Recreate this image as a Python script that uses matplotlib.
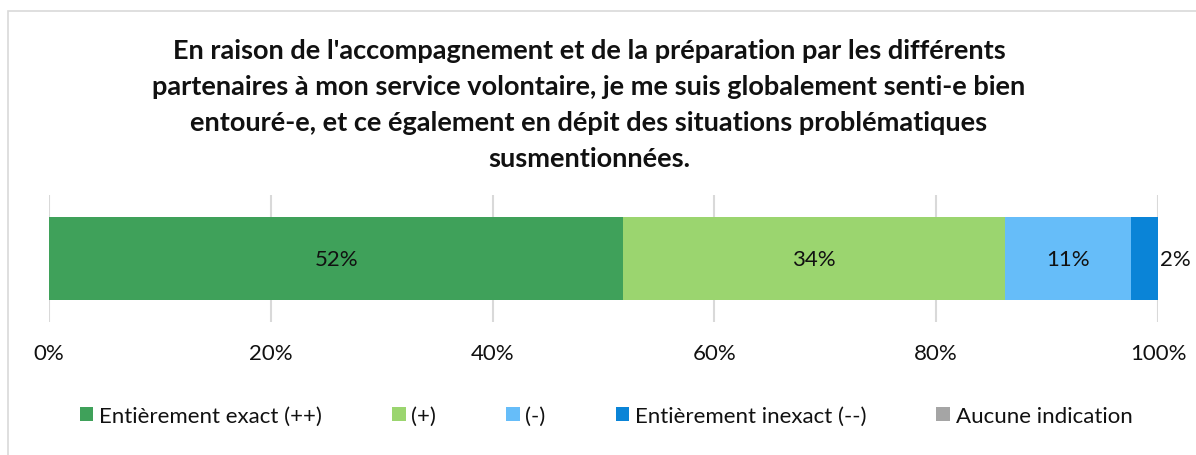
import matplotlib
matplotlib.use("Agg")
import matplotlib.pyplot as plt
import matplotlib.ticker as mticker
from matplotlib.patches import Patch, Rectangle

plt.rcParams["font.family"] = ["Lato", "DejaVu Sans"]

TITLE = ("En raison de l'accompagnement et de la préparation par les différents\n"
         "partenaires à mon service volontaire, je me suis globalement senti-e bien\n"
         "entouré-e, et ce également en dépit des situations problématiques\n"
         "susmentionnées.")

categories = ["Entièrement exact (++)", "(+)", "(-)", "Entièrement inexact (--)",
              "Aucune indication"]
shares = [51.8, 34.4, 11.4, 2.4, 0.0]
colors = ["#3FA15A", "#9BD56F", "#66BDF9", "#0A84D7", "#A5A5A5"]
ticks = [0, 20, 40, 60, 80, 100]

W, H = 1196, 456
FS = 16
fig = plt.figure(figsize=(W / 100, H / 100), dpi=100)

# light frame around the chart area
fig.patches.append(Rectangle((8 / W, -0.1), 1.2, 1 - 12 / H + 0.1,
                             transform=fig.transFigure, fill=False,
                             edgecolor="#D9D9D9", linewidth=1.2))

ax = fig.add_axes([49 / W, 1 - 323 / H, 1109 / W, 127 / H])

left = 0
for cat, val, col in zip(categories, shares, colors):
    ax.barh(0, val, left=left, height=0.66, color=col, label=cat, zorder=3)
    if val >= 5:
        ax.text(left + val / 2, 0, f"{val:.0f}%", ha="center", va="center",
                fontsize=FS, color="#111111", zorder=4)
    elif val > 0:
        # too narrow: label sits just right of the segment
        ax.text(left + val + 0.2, 0, f"{val:.0f}%", ha="left", va="center",
                fontsize=FS, color="#111111", zorder=4)
    left += val

ax.set_xlim(0, 100)
ax.set_ylim(-0.5, 0.5)
ax.set_xticks(ticks)
ax.xaxis.set_major_formatter(mticker.PercentFormatter(decimals=0))
ax.tick_params(axis="x", length=0, pad=15, labelsize=FS, labelcolor="#111111")
ax.set_yticks([])
for s in ax.spines.values():
    s.set_visible(False)
ax.grid(axis="x", color="#D9D9D9", linewidth=1.5, zorder=0)

fig.text(589 / W, 1 - 39 / H, TITLE, ha="center", va="top", fontsize=19.5,
         fontweight="bold", color="#111111", linespacing=1.6)

handles = [Patch(facecolor=c, edgecolor="none") for c in colors]
fig.legend(handles, categories, loc="center", bbox_to_anchor=(606 / W, 1 - 417 / H),
           ncol=5, frameon=False, fontsize=FS, handlelength=0.62, handleheight=0.62,
           handletextpad=0.25, columnspacing=3.15, labelcolor="#111111")

fig.savefig("out.png", dpi=100)
